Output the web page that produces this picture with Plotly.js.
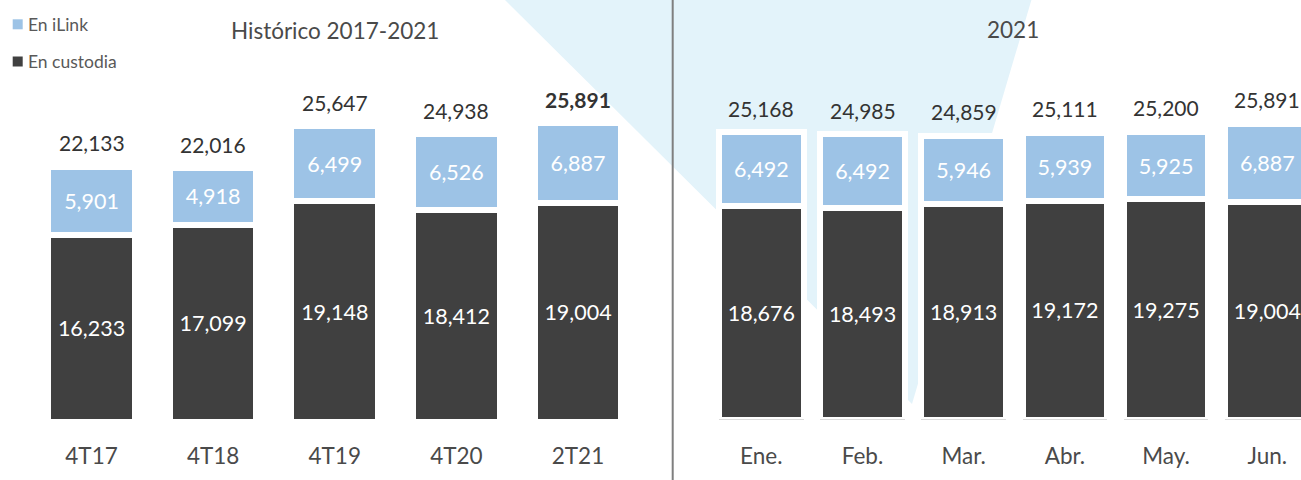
<!DOCTYPE html>
<html>
<head>
<meta charset="utf-8">
<script src="https://cdn.plot.ly/plotly-3.0.1.min.js"></script>
<style>html,body{margin:0;padding:0;background:#fff;}#chart{width:1301px;height:480px;}</style>
</head>
<body>
<div id="chart"></div>
<script>
// Data
const catsHist = ['4T17', '4T18', '4T19', '4T20', '2T21'];
const custodiaHist = [16233, 17099, 19148, 18412, 19004];
const ilinkHist = [5901, 4918, 6499, 6526, 6887];
const totalHist = [22133, 22016, 25647, 24938, 25891];

const catsMes = ['Ene.', 'Feb.', 'Mar.', 'Abr.', 'May.', 'Jun.'];
const custodiaMes = [18676, 18493, 18913, 19172, 19275, 19004];
const ilinkMes = [6492, 6492, 5946, 5939, 5925, 6887];
const totalMes = [25168, 24985, 24859, 25111, 25200, 25891];

const seriesNames = ['En custodia', 'En iLink'];
const titles = ['Histórico 2017-2021', '2021'];

const W = 1301, H = 480;
const DARK = '#404040', BLUE = '#9dc3e6', TXT = '#4a4a4a';
const FONT = 'Lato, Carlito, Calibri, "Open Sans", sans-serif';
const px = v => v / W, py = v => 1 - v / H;

function barTrace(x, y, name, color, xa, ya, w) {
  return {
    type: 'bar', x: x, y: y, name: name, xaxis: xa, yaxis: ya,
    width: w,
    marker: {color: color, line: {color: '#ffffff', width: 6}},
    texttemplate: '%{y:,}', textposition: 'inside', insidetextanchor: 'middle',
    textfont: {family: FONT, size: 21.5, color: '#ffffff'},
    constraintext: 'none', hoverinfo: 'skip', showlegend: false
  };
}

const data = [
  barTrace(catsHist, custodiaHist, seriesNames[0], DARK, 'x', 'y', 0.712),
  barTrace(catsHist, ilinkHist, seriesNames[1], BLUE, 'x', 'y', 0.712),
  barTrace(catsMes, custodiaMes, seriesNames[0], DARK, 'x2', 'y2', 0.837),
  barTrace(catsMes, ilinkMes, seriesNames[1], BLUE, 'x2', 'y2', 0.837)
];

const annotations = [];
catsHist.forEach((c, i) => {
  const bold = i === catsHist.length - 1;
  annotations.push({
    xref: 'x', yref: 'y', x: c, y: totalHist[i], yanchor: 'middle', yshift: 24,
    text: bold ? '<b>' + totalHist[i].toLocaleString('en-US') + '</b>' : totalHist[i].toLocaleString('en-US'),
    showarrow: false, font: {family: FONT, size: 21, color: '#333333'}
  });
});
catsMes.forEach((c, i) => {
  annotations.push({
    xref: 'x2', yref: 'y2', x: c, y: totalMes[i], yanchor: 'middle', yshift: 24,
    text: totalMes[i].toLocaleString('en-US'),
    showarrow: false, font: {family: FONT, size: 21, color: '#333333'}
  });
});
// Panel titles
annotations.push({xref: 'paper', yref: 'paper', x: px(335), y: py(30), text: titles[0], showarrow: false,
  xanchor: 'center', yanchor: 'middle', font: {family: FONT, size: 22.5, color: TXT}});
annotations.push({xref: 'paper', yref: 'paper', x: px(1013), y: py(29), text: titles[1], showarrow: false,
  xanchor: 'center', yanchor: 'middle', font: {family: FONT, size: 22.5, color: TXT}});
// Legend texts
annotations.push({xref: 'paper', yref: 'paper', x: px(26), y: py(24), text: seriesNames[1], showarrow: false,
  xanchor: 'left', yanchor: 'middle', font: {family: FONT, size: 17.5, color: '#595959'}});
annotations.push({xref: 'paper', yref: 'paper', x: px(26), y: py(61.5), text: seriesNames[0], showarrow: false,
  xanchor: 'left', yanchor: 'middle', font: {family: FONT, size: 17.5, color: '#595959'}});

const shapes = [
  {type: 'path', xref: 'paper', yref: 'paper', layer: 'below',
   path: `M ${px(503)} ${py(-2)} L ${px(1032)} ${py(-2)} L ${px(912)} ${py(404)} Z`,
   fillcolor: '#e3f3fa', line: {width: 0}},
  {type: 'line', xref: 'paper', yref: 'paper', x0: px(672.7), x1: px(672.7), y0: 0, y1: 1,
   line: {color: '#7f7f7f', width: 2}},
  {type: 'rect', xref: 'paper', yref: 'paper', x0: px(12.7), x1: px(22.7), y0: py(29.3), y1: py(19.3),
   fillcolor: BLUE, line: {width: 0}},
  {type: 'rect', xref: 'paper', yref: 'paper', x0: px(12.7), x1: px(22.7), y0: py(66.5), y1: py(56.5),
   fillcolor: DARK, line: {width: 0}}
];

const xCommon = {type: 'category', showgrid: false, zeroline: false, showline: false,
  ticks: 'outside', tickcolor: 'rgba(0,0,0,0)', tickfont: {family: FONT, size: 22.5, color: TXT}, fixedrange: true};

const layout = {
  width: W, height: H, margin: {l: 0, r: 0, t: 0, b: 0},
  paper_bgcolor: '#ffffff', plot_bgcolor: 'rgba(0,0,0,0)',
  barmode: 'stack', showlegend: false,
  xaxis: Object.assign({}, xCommon, {domain: [px(30.7), px(638.8)], range: [-0.5, 4.5], anchor: 'y', ticklen: 14}),
  yaxis: {domain: [1 - 422 / H, 1], range: [0, 422 / 0.01153], visible: false, fixedrange: true},
  xaxis2: Object.assign({}, xCommon, {domain: [px(710.7), 1], range: [-0.5, 5.333], anchor: 'y2', ticklen: 16}),
  yaxis2: {domain: [1 - 419.7 / H, 1], range: [0, 419.7 / 0.01143], visible: false, fixedrange: true},
  annotations: annotations,
  shapes: shapes
};

Plotly.newPlot('chart', data, layout, {displayModeBar: false, staticPlot: true});
</script>
</body>
</html>
